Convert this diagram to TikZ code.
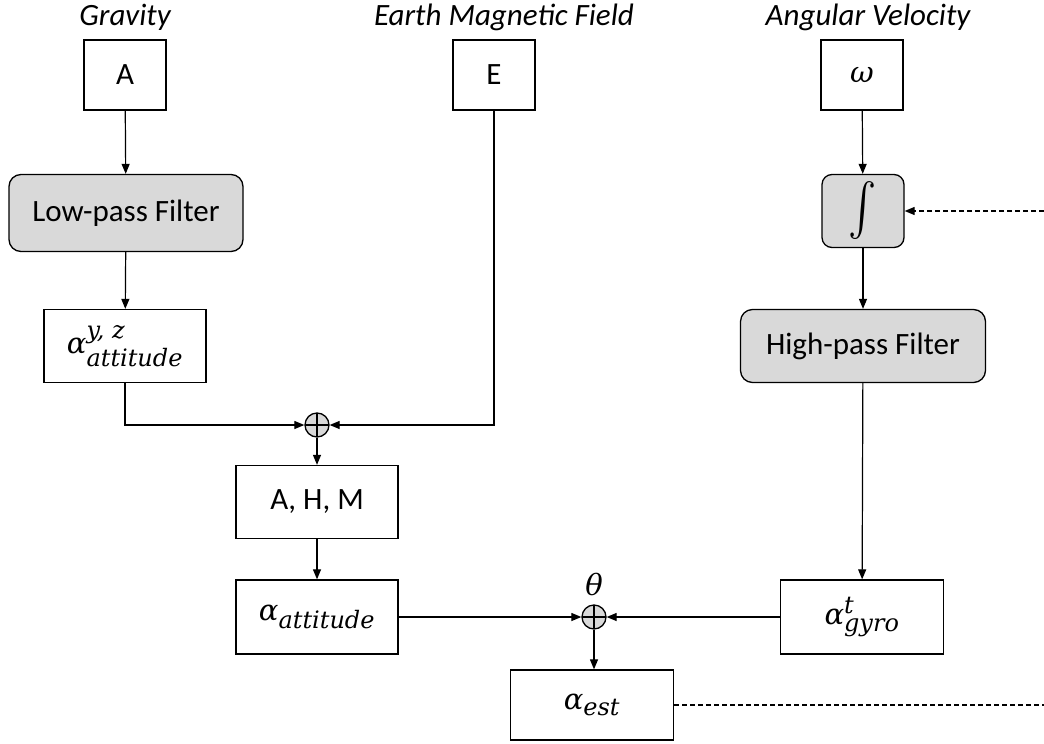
\documentclass[tikz,border=0pt]{standalone}
\usepackage{fix-cm}
\usepackage{amsmath}
\usepackage{graphicx}
\usepackage{fontspec}
\setmainfont{Carlito}
\newfontfamily\mathserif{DejaVu Serif}
\newcommand{\mv}[1]{\text{\mathserif\itshape #1}}
\DeclareMathSizes{29}{29}{24}{20}
\usetikzlibrary{arrows.meta}
\definecolor{boxgray}{HTML}{D9D9D9}
\begin{document}
\begin{tikzpicture}[x=1pt,y=-1pt,
  every node/.style={font=\fontsize{31}{36}\selectfont},
  blk/.style={draw, line width=1.3pt, fill=white, inner sep=0pt},
  rblk/.style={blk, fill=boxgray, rounded corners=12pt},
  lbl/.style={font=\fontsize{31}{36}\selectfont\itshape},
  mth/.style={font=\fontsize{29}{34}\selectfont},
  sumnode/.style={circle, draw, line width=1.3pt, fill=boxgray, minimum size=24pt, inner sep=0pt,
    path picture={\draw[line width=1.3pt] (path picture bounding box.north) -- (path picture bounding box.south)
      (path picture bounding box.west) -- (path picture bounding box.east);}},
  conn/.style={line width=1.2pt, -{Triangle[length=10pt,width=8pt]}},
  fb/.style={line width=1.2pt, dashed, dash pattern=on 5pt off 3pt}]
\useasboundingbox (0,0) rectangle (1044,744);

% input labels
\node[lbl] (lg) at (125,17) {Gravity};
\node[lbl] (le) at (504,17) {Earth Magnetic Field};
\node[lbl] (lw) at (868,17) {Angular Velocity};

% input blocks
\node[blk, minimum width=82pt, minimum height=70pt] (A) at (125,75) {A};
\node[blk, minimum width=82pt, minimum height=70pt] (E) at (494,75) {E};
\node[blk, minimum width=82pt, minimum height=70pt, mth] (W) at (862,75) {$\mv{ω}$};

% filters and integrator
\node[rblk, minimum width=234pt, minimum height=77pt] (lp) at (126,213) {Low-pass Filter};
\node[rblk, minimum width=82pt, minimum height=73pt, rounded corners=10pt, mth] (int) at (863,211) {\scalebox{1.7}[2.1]{$\int$}};
\node[rblk, minimum width=245pt, minimum height=73pt] (hp) at (863,346) {High-pass Filter};

% intermediate blocks
\node[blk, minimum width=162pt, minimum height=73pt, mth] (ayz) at (125,346) {$\mv{α}^{\mv{y, z}}_{\mv{attitude}}$};
\node[blk, minimum width=162pt, minimum height=73pt] (ahm) at (317,502) {A, H, M};
\node[blk, minimum width=162pt, minimum height=74pt, mth] (att) at (317,617) {$\mv{α}_{\mv{attitude}}$};
\node[blk, minimum width=163pt, minimum height=74pt, mth] (gyr) at (862,617) {$\mv{α}^{\mv{t}}_{\mv{gyro}}$};
\node[blk, minimum width=163pt, minimum height=70pt, mth] (est) at (592,705) {$\mv{α}_{\mv{est}}$};

% summing junctions
\node[sumnode] (s1) at (317,425) {};
\node[sumnode] (s2) at (594,617) {};
\node[mth] (th) at (594,584) {$\mv{θ}$};

% feedback ends at the right border
\coordinate (fbin) at (1044,211);
\coordinate (fbout) at (1044,705);

% connectors
\draw[conn] (A) -- (lp);
\draw[conn] (lp) -- (ayz);
\draw[conn] (ayz.south) |- (s1.west);
\draw[conn] (E.south) |- (s1.east);
\draw[conn] (s1) -- (ahm);
\draw[conn] (ahm) -- (att);
\draw[conn] (att.east) -- (s2.west);
\draw[conn] (W) -- (int);
\draw[conn] (int) -- (hp);
\draw[conn] (hp) -- (gyr);
\draw[conn] (gyr.west) -- (s2.east);
\draw[conn] (s2.south) -- (s2.south|-est.north);
\draw[fb] (est.east) -- (fbout);
\draw[fb, -{Triangle[length=10pt,width=8pt]}] (fbin) -- (int.east);
\end{tikzpicture}
\end{document}
